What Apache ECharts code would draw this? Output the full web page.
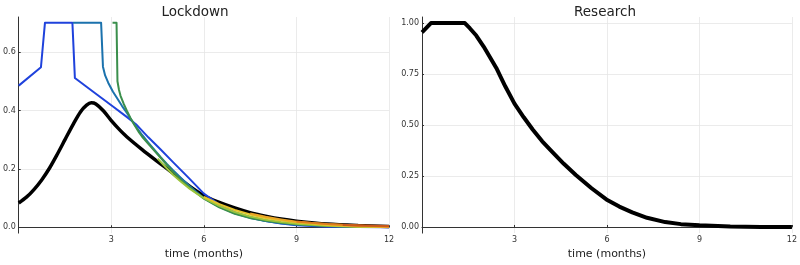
<!DOCTYPE html>
<html><head><meta charset="utf-8">
<script src="https://cdn.jsdelivr.net/npm/echarts@6/dist/echarts.min.js"></script>
<style>html,body{margin:0;padding:0;background:#fff}#c{width:800px;height:265px}</style>
</head><body><div id="c"></div>
<script>
// Lockdown panel: baseline (black)
const lockBaseX = [0,0.25,0.5,0.75,1.0,1.25,1.5,1.75,2.0,2.2,2.35,2.5,2.75,3.0,3.25,3.5,4.0,4.5,5.0,5.5,6.0,6.5,7.0,7.5,8.0,8.5,9.0,10,11,12];
const lockBaseY = [0.083,0.103,0.13,0.163,0.203,0.25,0.3,0.35,0.395,0.418,0.426,0.422,0.398,0.365,0.336,0.31,0.266,0.225,0.185,0.143,0.108,0.085,0.066,0.05,0.038,0.028,0.021,0.011,0.006,0.003];
// Lockdown panel: policies recomputed at successive start times
const lock1X = [0,0.72,0.85,1.74,1.82,2.5,3.0,3.5,3.8,4.2,4.6,5.0,5.5,6.0,6.5,7.0,7.5,8.0,8.5,9.0,10,11,12];
const lock1Y = [0.485,0.548,0.7,0.7,0.511,0.457,0.418,0.378,0.353,0.308,0.266,0.223,0.17,0.115,0.078,0.052,0.034,0.021,0.013,0.007,0.002,0.001,0.0];
const lock2X = [1.76,2.67,2.73,2.8,2.9,3.05,3.2,3.35,3.5,3.65,3.8,4.0,4.2,4.4,4.6,4.8,5.0,5.25,5.5,5.75,6.0,6.5,7.0,7.5,8.0,8.5,9.0,10,11,12];
const lock2Y = [0.7,0.7,0.55,0.52,0.495,0.465,0.44,0.415,0.392,0.368,0.345,0.316,0.29,0.265,0.24,0.217,0.195,0.17,0.145,0.122,0.1,0.07,0.048,0.032,0.021,0.014,0.009,0.004,0.002,0.001];
const lock3X = [3.04,3.17,3.2,3.25,3.3,3.4,3.5,3.62,3.75,3.9,4.0,4.25,4.5,4.75,5.0,5.25,5.5,5.75,6.0,6.5,7.0,7.5,8.0,8.5,9.0,10,11,12];
const lock3Y = [0.7,0.7,0.5,0.47,0.45,0.423,0.4,0.374,0.35,0.325,0.31,0.28,0.25,0.22,0.19,0.164,0.14,0.118,0.098,0.068,0.046,0.032,0.022,0.015,0.01,0.004,0.002,0.001];
const lock4X = [4.5,4.75,5.0,5.25,5.5,5.75,6.0,6.5,7.0,7.5,8.0,8.5,9.0,10,11,12];
const lock4Y = [0.235,0.207,0.18,0.157,0.135,0.117,0.1,0.073,0.052,0.037,0.026,0.018,0.012,0.005,0.002,0.001];
const lock5X = [6.0,6.5,7.0,7.5,8.0,8.5,9.0,10,11,12];
const lock5Y = [0.104,0.079,0.059,0.044,0.032,0.024,0.017,0.008,0.003,0.001];
const lock6X = [7.5,8.0,8.5,9.0,10,11,12];
const lock6Y = [0.047,0.036,0.027,0.019,0.01,0.005,0.002];
const lock7X = [9.0,9.5,10,11,12];
const lock7Y = [0.02,0.015,0.011,0.006,0.003];
const lock8X = [10.5,11,12];
const lock8Y = [0.008,0.006,0.004];
// Research panel
const resX = [0,0.29,1.39,1.55,1.76,2.0,2.41,2.7,3.0,3.3,3.59,3.9,4.24,4.6,4.99,5.5,5.98,6.4,6.82,7.3,7.89,8.4,9.0,10,11,12];
const resY = [0.955,1.0,1.0,0.975,0.939,0.885,0.78,0.69,0.605,0.538,0.478,0.42,0.366,0.31,0.255,0.19,0.135,0.1,0.072,0.045,0.024,0.014,0.008,0.002,0.0,0.0];
// Ticks
const xTicks = [3,6,9,12];
const lockYTicks = [0,0.2,0.4,0.6];
const resYTicks = [0,0.25,0.5,0.75,1.0];
const titles = ['Lockdown','Research'];
const xLabel = 'time (months)';

const colors = ['#1f42dc','#1b72ad','#3b8f4c','#9cc43c','#e6c42a','#eaa526','#de7c1e','#c9571a'];
const pairs = (xs, ys) => xs.map((x,i)=>[x,ys[i]]);

const chart = echarts.init(document.getElementById('c'));
const font = 'DejaVu Sans, sans-serif';
function xAxis(gi){
  return {type:'value',gridIndex:gi,min:0,max:12,
    name:xLabel,nameLocation:'middle',nameGap:14,nameTextStyle:{fontSize:11,color:'#222',fontFamily:font},
    axisLine:{show:true,lineStyle:{color:'#333',width:1}},
    axisTick:{show:true,inside:true,length:2,customValues:xTicks,lineStyle:{color:'#333'}},
    axisLabel:{customValues:xTicks,fontSize:8,color:'#333',margin:3,fontFamily:font},
    splitLine:{show:true,lineStyle:{color:'#e6e6e6',width:0.8}}};
}
function yAxis(gi,min,max,ticks,dec){
  return {type:'value',gridIndex:gi,min:min,max:max,
    axisLine:{show:true,lineStyle:{color:'#333',width:1}},
    axisTick:{show:true,inside:true,length:2,customValues:ticks,lineStyle:{color:'#333'}},
    axisLabel:{customValues:ticks,fontSize:8,color:'#333',margin:3,fontFamily:font,formatter:v=>v.toFixed(dec)},
    splitLine:{show:true,lineStyle:{color:'#e6e6e6',width:0.8}}};
}
const lockSeries = [[lock1X,lock1Y],[lock2X,lock2Y],[lock3X,lock3Y],[lock4X,lock4Y],[lock5X,lock5Y],[lock6X,lock6Y],[lock7X,lock7Y],[lock8X,lock8Y]];
const series = [
  {type:'line',xAxisIndex:0,yAxisIndex:0,data:pairs(lockBaseX,lockBaseY),smooth:0.3,showSymbol:false,lineStyle:{color:'#000',width:3.5},z:2}
];
lockSeries.forEach((s,i)=>{
  series.push({type:'line',xAxisIndex:0,yAxisIndex:0,data:pairs(s[0],s[1]),smooth:false,showSymbol:false,lineStyle:{color:colors[i],width:2,join:'round'},z:3+i});
});
series.push({type:'line',xAxisIndex:1,yAxisIndex:1,data:pairs(resX,resY),smooth:false,showSymbol:false,lineStyle:{color:'#000',width:4,join:'round'}});

chart.setOption({
  animation:false,
  title:[
    {text:titles[0],left:190,top:0,textAlign:'center',textStyle:{fontSize:13.5,fontWeight:'normal',color:'#222',fontFamily:font}},
    {text:titles[1],left:600,top:0,textAlign:'center',textStyle:{fontSize:13.5,fontWeight:'normal',color:'#222',fontFamily:font}}
  ],
  grid:[
    {left:16,top:17,width:373,height:222,containLabel:false},
    {left:422,top:17,width:372,height:222,containLabel:false}
  ],
  xAxis:[xAxis(0),xAxis(1)],
  yAxis:[yAxis(0,-0.02,0.72,lockYTicks,1),yAxis(1,-0.03,1.03,resYTicks,2)],
  series:series
});
</script></body></html>
